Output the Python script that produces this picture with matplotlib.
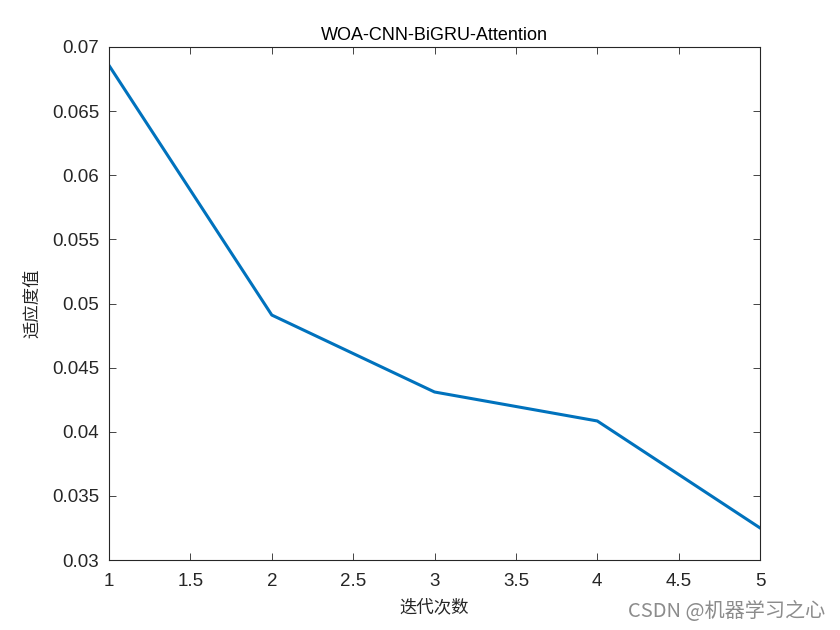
import matplotlib
matplotlib.use('Agg')
import matplotlib.pyplot as plt

plt.rcParams['font.family'] = ['Liberation Sans', 'Noto Sans CJK SC']

# iterations and fitness values
iters = [1, 2, 3, 4, 5]
fitness = [0.06856, 0.0491, 0.0431, 0.04084, 0.0325]

xticks = [1, 1.5, 2, 2.5, 3, 3.5, 4, 4.5, 5]
xtick_labels = ['1', '1.5', '2', '2.5', '3', '3.5', '4', '4.5', '5']
yticks = [0.03, 0.035, 0.04, 0.045, 0.05, 0.055, 0.06, 0.065, 0.07]
ytick_labels = ['0.03', '0.035', '0.04', '0.045', '0.05', '0.055', '0.06', '0.065', '0.07']

fig = plt.figure(figsize=(8.4, 6.3), dpi=100)
ax = fig.add_axes([0.1298, 0.1111, 0.775, 0.8143])

ax.plot(iters, fitness, color='#0072BD', lw=2.2)

ax.set_xlim(1, 5)
ax.set_ylim(0.03, 0.07)
ax.set_xticks(xticks)
ax.set_xticklabels(xtick_labels)
ax.set_yticks(yticks)
ax.set_yticklabels(ytick_labels)
ax.tick_params(direction='in', top=True, right=True, labelsize=13.5, colors='#262626',
               length=5, width=0.6)
ax.tick_params(axis='x', pad=9)
ax.tick_params(axis='y', pad=7)
for s in ax.spines.values():
    s.set_linewidth(0.8)
    s.set_color('#262626')

ax.set_title('WOA-CNN-BiGRU-Attention', fontsize=13, color='black', pad=5)
ax.set_xlabel('迭代次数', family=['Noto Sans CJK SC'], fontsize=12.5, color='#262626', labelpad=6)
ax.set_ylabel('适应度值', family=['Noto Sans CJK SC'], fontsize=12.5, color='#262626', labelpad=8)

fig.text(0.982, 0.013, 'CSDN @机器学习之心', ha='right', va='bottom', fontsize=14.5,
         color='#8c8c8c', family=['Noto Sans CJK SC', 'DejaVu Sans'])

fig.savefig('out.png', dpi=100, facecolor='white')
